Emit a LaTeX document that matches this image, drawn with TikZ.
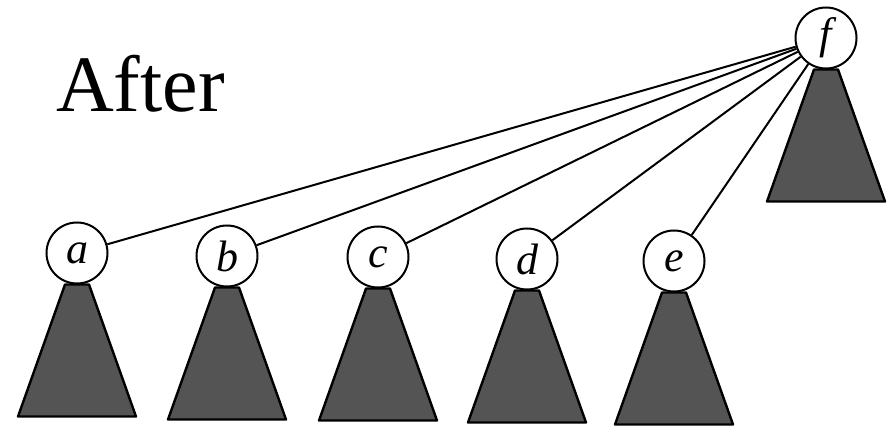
\documentclass[tikz,border=0pt]{standalone}
\usepackage{fontspec}
\setmainfont{Liberation Serif}
\usepackage{xcolor}
\definecolor{treegray}{RGB}{84,84,84}

\newcommand{\subtree}[1]{%
  \filldraw[subtree] (#1.south) ++(-12,0) -- ++(-47,132) -- ++(118,0) -- ++(-47,-132) -- cycle;}

\begin{document}
\begin{tikzpicture}[
  x=1pt, y=-1pt,
  vertex/.style={circle, draw, fill=white, line width=2pt, minimum size=61pt, inner sep=0pt,
                 font=\fontsize{44}{44}\selectfont\itshape},
  subtree/.style={fill=treegray, draw=black, line width=2.4pt, line join=round},
  link/.style={line width=2pt},
]
\useasboundingbox (0,0) rectangle (890,427);

\node[font=\fontsize{80}{80}\selectfont, anchor=base west, inner sep=0pt] (title) at (56,112) {After};

\node[vertex] (f) at (826,38)  {f};
\node[vertex] (a) at (77,253)  {a};
\node[vertex] (b) at (227,256) {b};
\node[vertex] (c) at (378,257) {c};
\node[vertex] (d) at (527,259) {d};
\node[vertex] (e) at (674,261) {e};

% subtrees below each root
\foreach \n in {a,b,c,d,e,f} {\subtree{\n}}

\foreach \n in {a,b,c,d,e} {\draw[link] (f) -- (\n);}
\end{tikzpicture}
\end{document}
